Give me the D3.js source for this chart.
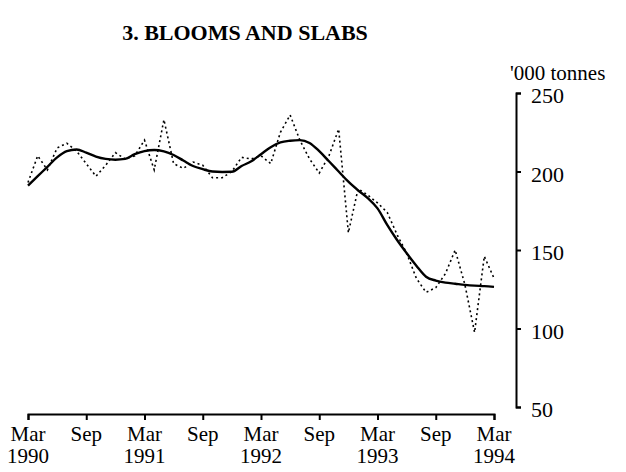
<!DOCTYPE html>
<html>
<head>
<meta charset="utf-8">
<script src="https://cdn.jsdelivr.net/npm/d3@7"></script>
<style>
  html, body { margin: 0; padding: 0; background: #fff; }
  svg { display: block; }
  text { font-family: "Liberation Serif", "Times New Roman", serif; fill: #000; }
</style>
</head>
<body>
<svg id="chart" width="626" height="472"></svg>
<script>
// ---- data (thousand tonnes, monthly Mar 1990 .. Mar 1994) ----
const title = "3. BLOOMS AND SLABS";
const unitLabel = "'000 tonnes";
const monthly = [
  193, 210, 201, 215, 218, 213, 205, 197, 204, 212, 208, 210,
  220, 201, 233, 205, 202, 206, 204, 196, 196, 200, 209, 208,
  210, 205, 225, 236, 220, 208, 199, 210, 227, 161, 189, 185,
  180, 174, 160, 148, 132, 123, 126, 135, 150, 128, 97.5, 146, 132
];
const trend = [
  191, 197, 203, 209, 213, 214, 212, 209.5, 208, 207.5, 208, 211,
  213, 213.7, 212.8, 210.5, 207, 203.5, 201.5, 200, 199.7, 199.8, 203.5, 206.5,
  211, 215.5, 218.5, 219.6, 220, 218.2, 213, 206.5, 200, 193.5, 188, 183,
  176.5, 166, 156.5, 148, 140, 133, 130.5, 129.2, 128.5, 127.8, 127.3, 127, 126.5
];
const xTickIndex = [0, 6, 12, 18, 24, 30, 36, 42, 48];
const xTickMonth = ["Mar", "Sep", "Mar", "Sep", "Mar", "Sep", "Mar", "Sep", "Mar"];
const xTickYear  = ["1990", "", "1991", "", "1992", "", "1993", "", "1994"];
const yTicks = [50, 100, 150, 200, 250];

// ---- drawing ----
const svg = d3.select("#chart");
const x = d3.scaleLinear().domain([0, 48]).range([28, 494]);
const y = d3.scaleLinear().domain([50, 250]).range([407, 93]);

svg.append("text")
  .attr("x", 245).attr("y", 40)
  .attr("text-anchor", "middle")
  .attr("font-size", 22).attr("font-weight", "bold")
  .text(title);

svg.append("text")
  .attr("x", 510).attr("y", 80)
  .attr("font-size", 21)
  .text(unitLabel);

// y axis (right side)
const yAxis = svg.append("g")
  .attr("transform", "translate(516,0)")
  .call(d3.axisRight(y).tickValues(yTicks).tickSize(5).tickPadding(10));
yAxis.selectAll("path, line").attr("stroke", "#000").attr("stroke-width", 2);
yAxis.selectAll("text")
  .attr("font-size", 22)
  .attr("dy", "0.45em")
  .attr("font-family", "Liberation Serif, serif")
  .attr("fill", "#000");

// x axis
const xAxis = svg.append("g")
  .attr("transform", "translate(0,414)")
  .call(d3.axisBottom(x).tickValues(xTickIndex).tickSize(6).tickFormat(""));
xAxis.selectAll("path, line").attr("stroke", "#000").attr("stroke-width", 2);

const lab = svg.append("g");
xTickIndex.forEach((v, i) => {
  lab.append("text")
    .attr("x", x(v)).attr("y", 441)
    .attr("text-anchor", "middle").attr("font-size", 21)
    .text(xTickMonth[i]);
  if (xTickYear[i]) {
    lab.append("text")
      .attr("x", x(v)).attr("y", 463)
      .attr("text-anchor", "middle").attr("font-size", 21)
      .text(xTickYear[i]);
  }
});

// lines
const line = d3.line().x((d, i) => x(i)).y(d => y(d)).curve(d3.curveLinear);
svg.append("path")
  .datum(monthly)
  .attr("d", line)
  .attr("fill", "none")
  .attr("stroke", "#000")
  .attr("stroke-width", 1.6)
  .attr("stroke-dasharray", "2,3");

svg.append("path")
  .datum(trend)
  .attr("d", d3.line().x((d, i) => x(i)).y(d => y(d)).curve(d3.curveMonotoneX))
  .attr("fill", "none")
  .attr("stroke", "#000")
  .attr("stroke-width", 2.4);
</script>
</body>
</html>
